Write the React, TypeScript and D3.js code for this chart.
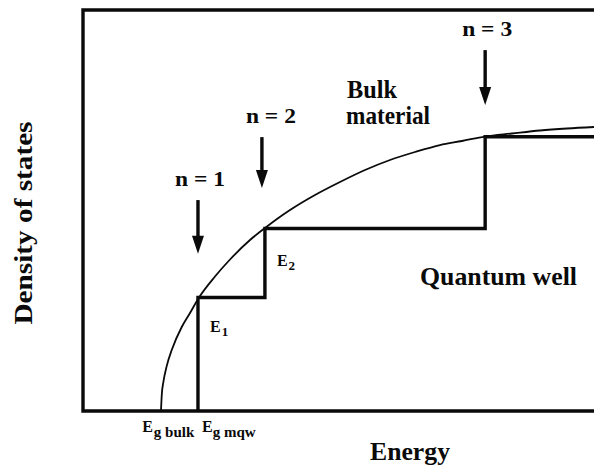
import React from 'react';
import * as d3 from 'd3';

const WIDTH = 594;
const HEIGHT = 466;

// Axes in arbitrary units
const energyDomain = [0, 10];
const dosDomain = [0, 10];

// Bulk (3D) density of states, rising from the bulk band gap
const bulkEnergy = [1.526, 1.542, 1.575, 1.638, 1.742, 1.932, 2.094, 2.27, 2.583, 2.877, 3.268, 3.562, 3.796, 4.051, 4.54, 5.029, 5.519, 6.008, 6.497, 6.986, 7.417, 7.867, 8.395, 8.943, 9.472, 10.0];
const bulkDos = [0, 0.41, 0.74, 1.12, 1.54, 2.095, 2.444, 2.83, 3.354, 3.778, 4.264, 4.564, 4.788, 5.012, 5.387, 5.711, 6.01, 6.259, 6.459, 6.633, 6.733, 6.845, 6.92, 6.995, 7.045, 7.082];

// Quantum-well subband edges and the step heights of the 2D density of states
const subbandLabels = ['n = 1', 'n = 2', 'n = 3'];
const subbandEnergy = [2.25, 3.56, 7.87];
const subbandDos = [2.83, 4.55, 6.84];

// Arrows marking each subband (tip and tail heights)
const arrowTipDos = [3.92, 5.56, 7.63];
const arrowTailDos = [5.26, 6.83, 9.0];

const gapBulk = 1.53;
const gapMqw = 2.25;

const FONT = '"Liberation Serif", "Times New Roman", serif';
const INK = '#0a0a0a';

export default function App() {
  const x = d3.scaleLinear().domain(energyDomain).range([83, 594]);
  const y = d3.scaleLinear().domain(dosDomain).range([411, 10]);

  const line = d3
    .line<[number, number]>()
    .x((d) => x(d[0]))
    .y((d) => y(d[1]));

  const bulkPath = line.curve(d3.curveMonotoneX)(
    bulkEnergy.map((e, i) => [e, bulkDos[i]] as [number, number])
  );

  const stepPoints: [number, number][] = [
    [subbandEnergy[0], 0],
    ...subbandEnergy.map((e, i) => [e, subbandDos[i]] as [number, number]),
    [energyDomain[1], subbandDos[subbandDos.length - 1]],
  ];
  const stepPath = d3
    .line<[number, number]>()
    .x((d) => x(d[0]))
    .y((d) => y(d[1]))
    .curve(d3.curveStepAfter)(stepPoints);

  const framePath = `M${x(energyDomain[1])},${y(dosDomain[1])} H${x(energyDomain[0])} V${y(dosDomain[0])} H${x(energyDomain[1])}`;

  const labelDx = [2, 9, 2];
  const levelLabelDy = [34, 37];

  return (
    <svg
      width={WIDTH}
      height={HEIGHT}
      style={{ position: 'absolute', left: 0, top: 0, background: '#fff' }}
    >
      <rect width={WIDTH} height={HEIGHT} fill="#fff" />

      {/* frame */}
      <path d={framePath} fill="none" stroke={INK} strokeWidth={3.4} strokeLinejoin="miter" />

      {/* bulk density of states */}
      <path d={bulkPath || ''} fill="none" stroke={INK} strokeWidth={1.8} />

      {/* quantum-well staircase */}
      <path d={stepPath || ''} fill="none" stroke={INK} strokeWidth={3.4} strokeLinejoin="miter" />

      {/* subband arrows and labels */}
      {subbandEnergy.map((e, i) => {
        const ax = x(e) + (i === 1 ? -3 : 0);
        const tip = y(arrowTipDos[i]);
        const tail = y(arrowTailDos[i]);
        const headLen = 18;
        const headHalf = 6;
        return (
          <g key={subbandLabels[i]}>
            <line x1={ax} x2={ax} y1={tail} y2={tip - headLen + 2} stroke={INK} strokeWidth={3.4} />
            <path
              d={`M${ax - headHalf},${tip - headLen} L${ax + headHalf},${tip - headLen} L${ax},${tip} Z`}
              fill={INK}
            />
            <text
              x={ax + labelDx[i]}
              y={tail - 14}
              textAnchor="middle"
              fontFamily={FONT}
              fontWeight="bold"
              fontSize={21}
              textLength={50}
              lengthAdjust="spacingAndGlyphs"
              fill={INK}
            >
              {subbandLabels[i]}
            </text>
          </g>
        );
      })}

      {/* E1, E2 labels beside the steps */}
      {subbandEnergy.slice(0, 2).map((e, i) => (
        <text
          key={`E${i + 1}`}
          x={x(e) + 12}
          y={y(subbandDos[i]) + levelLabelDy[i]}
          fontFamily={FONT}
          fontWeight="bold"
          fontSize={16}
          fill={INK}
        >
          E
          <tspan fontSize={13} dy={4} dx={1}>
            {i + 1}
          </tspan>
        </text>
      ))}

      {/* band-gap labels under the energy axis */}
      <text x={x(gapBulk) - 19} y={432} fontFamily={FONT} fontWeight="bold" fontSize={16} fill={INK}>
        E
        <tspan fontSize={15} dy={5} dx={1}>g bulk</tspan>
      </text>
      <text x={x(gapMqw) + 4} y={432} fontFamily={FONT} fontWeight="bold" fontSize={16} fill={INK}>
        E
        <tspan fontSize={15} dy={5}>g mqw</tspan>
      </text>

      {/* region labels */}
      <text x={347} y={98} fontFamily={FONT} fontWeight="bold" fontSize={25} textLength={50} lengthAdjust="spacingAndGlyphs" fill={INK}>
        Bulk
      </text>
      <text x={346} y={124} fontFamily={FONT} fontWeight="bold" fontSize={25} textLength={84} lengthAdjust="spacingAndGlyphs" fill={INK}>
        material
      </text>
      <text x={420} y={285} fontFamily={FONT} fontWeight="bold" fontSize={25} textLength={157} lengthAdjust="spacingAndGlyphs" fill={INK}>
        Quantum well
      </text>

      {/* axis titles */}
      <text x={410} y={460} textAnchor="middle" fontFamily={FONT} fontWeight="bold" fontSize={25} textLength={80} lengthAdjust="spacingAndGlyphs" fill={INK}>
        Energy
      </text>
      <text
        transform="translate(32,223) rotate(-90)"
        textAnchor="middle"
        fontFamily={FONT}
        fontWeight="bold"
        fontSize={25}
        textLength={203}
        lengthAdjust="spacingAndGlyphs"
        fill={INK}
      >
        Density of states
      </text>
    </svg>
  );
}
